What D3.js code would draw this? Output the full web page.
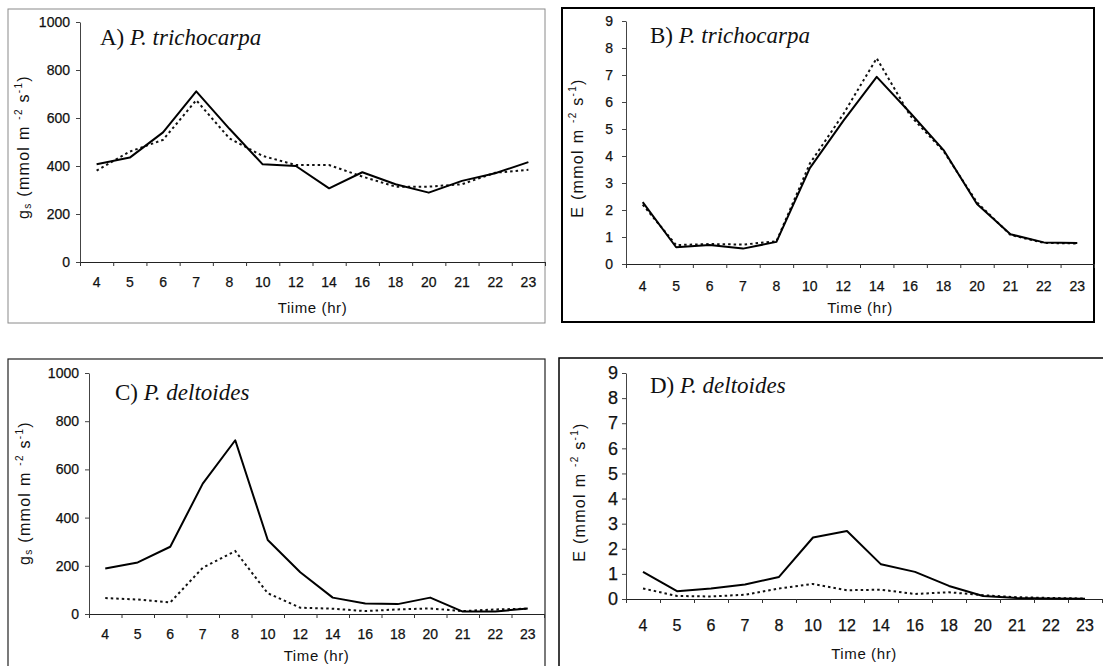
<!DOCTYPE html>
<html>
<head>
<meta charset="utf-8">
<script src="https://cdn.jsdelivr.net/npm/d3@7"></script>
<style>
  html, body { margin: 0; padding: 0; background: #fff; }
  svg { display: block; }
  .tick text { fill: #111; stroke: #111; stroke-width: 0.25px; }
</style>
</head>
<body>
<svg id="fig" width="1103" height="666"></svg>
<script>
// Sampling hours (category axis)
const hours = ["4","5","6","7","8","10","12","14","16","18","20","21","22","23"];

// Axis tick values
const gsTicks = [0, 200, 400, 600, 800, 1000];
const eTicks = [0, 1, 2, 3, 4, 5, 6, 7, 8, 9];

// Stomatal conductance, P. trichocarpa (mmol m-2 s-1)
const aSolid  = [407, 435, 540, 711, 555, 407, 400, 307, 374, 324, 289, 338, 370, 416];
const aDotted = [381, 460, 509, 674, 515, 442, 404, 404, 356, 314, 314, 324, 372, 384];

// Transpiration, P. trichocarpa (mmol m-2 s-1)
const bSolid  = [2.29, 0.62, 0.70, 0.57, 0.82, 3.55, 5.30, 6.93, 5.60, 4.22, 2.22, 1.10, 0.80, 0.78];
const bDotted = [2.20, 0.70, 0.74, 0.72, 0.84, 3.72, 5.55, 7.62, 5.50, 4.18, 2.28, 1.08, 0.78, 0.76];

// Stomatal conductance, P. deltoides
const cSolid  = [189, 214, 279, 541, 721, 307, 173, 68, 44, 41, 68, 10, 10, 23];
const cDotted = [66, 60, 48, 192, 261, 86, 26, 22, 12, 19, 23, 12, 19, 22];

// Transpiration, P. deltoides
const dSolid  = [1.08, 0.31, 0.42, 0.58, 0.88, 2.45, 2.71, 1.38, 1.08, 0.52, 0.12, 0.04, 0.02, 0.01];
const dDotted = [0.42, 0.12, 0.10, 0.17, 0.42, 0.60, 0.35, 0.37, 0.20, 0.27, 0.15, 0.07, 0.04, 0.02];

const svg = d3.select("#fig");
const SANS = "'Liberation Sans', Arial, Helvetica, sans-serif";
const SERIF = "'Liberation Serif', 'Times New Roman', serif";

const panels = [
  { letter: "A)", species: "P. trichocarpa", qty: "gs", xTitle: "Tiime (hr)",
    solid: aSolid, dotted: aDotted, ticks: gsTicks, max: 1000,
    box: [8, 9, 545, 323], boxStroke: "#8a8a8a", boxWidth: 1,
    x0: 80, x1: 545, y0: 262, y1: 22,
    tickFont: 14, yPad: 6, xLabY: 15, xTitleY: 313, yTitleX: 29, yTitleY: 147,
    titleX: 100, titleY: 45 },
  { letter: "B)", species: "P. trichocarpa", qty: "E", xTitle: "Time (hr)",
    solid: bSolid, dotted: bDotted, ticks: eTicks, max: 9,
    box: [562, 8, 1094, 322], boxStroke: "#000", boxWidth: 2,
    x0: 626, x1: 1094, y0: 264, y1: 21,
    tickFont: 14, yPad: 9, xLabY: 17, xTitleY: 313, yTitleX: 583, yTitleY: 148,
    titleX: 650, titleY: 43 },
  { letter: "C)", species: "P. deltoides", qty: "gs", xTitle: "Time (hr)",
    solid: cSolid, dotted: cDotted, ticks: gsTicks, max: 1000,
    box: [8, 359, 545, 700], boxStroke: "#222", boxWidth: 1.2,
    x0: 89, x1: 544, y0: 614, y1: 373,
    tickFont: 14, yPad: 6, xLabY: 15, xTitleY: 661, yTitleX: 30, yTitleY: 493,
    titleX: 115, titleY: 400 },
  { letter: "D)", species: "P. deltoides", qty: "E", xTitle: "Time (hr)",
    solid: dSolid, dotted: dDotted, ticks: eTicks, max: 9,
    box: [559, 358, 1140, 700], boxStroke: "#000", boxWidth: 1.5,
    x0: 626, x1: 1102, y0: 599, y1: 373,
    tickFont: 16, yFont: 18, yPad: 4, xLabY: 21, xTitleY: 659, yTitleX: 585, yTitleY: 492,
    titleX: 650, titleY: 393 }
];

function yTitle(g, p) {
  const t = g.append("text")
    .attr("transform", `translate(${p.yTitleX},${p.yTitleY}) rotate(-90)`)
    .attr("text-anchor", "middle")
    .attr("font-family", SANS)
    .attr("font-size", 16)
    .attr("letter-spacing", 1.3)
    .attr("fill", "#111");
  if (p.qty === "gs") {
    t.append("tspan").text("g");
    t.append("tspan").attr("font-size", 10).attr("dy", 2).text("s");
    t.append("tspan").attr("dy", -2).text(" (mmol m ");
  } else {
    t.append("tspan").text("E (mmol m ");
  }
  t.append("tspan").attr("font-size", 10).attr("dy", -7).text("-2");
  t.append("tspan").attr("dy", 7).text(" s");
  t.append("tspan").attr("font-size", 10).attr("dy", -7).text("-1");
  t.append("tspan").attr("dy", 7).text(")");
}

panels.forEach(p => {
  const g = svg.append("g");

  // panel frame
  g.append("rect")
    .attr("x", p.box[0]).attr("y", p.box[1])
    .attr("width", p.box[2] - p.box[0]).attr("height", p.box[3] - p.box[1])
    .attr("fill", "none").attr("stroke", p.boxStroke).attr("stroke-width", p.boxWidth);

  const x = d3.scaleBand().domain(hours).range([p.x0, p.x1]).padding(0);
  const xEdge = d3.scaleLinear().domain([0, hours.length]).range([p.x0, p.x1]);
  const y = d3.scaleLinear().domain([0, p.max]).range([p.y0, p.y1]);

  // y axis
  const ya = g.append("g").attr("transform", `translate(${p.x0},0)`)
    .call(d3.axisLeft(y).tickValues(p.ticks).tickFormat(d3.format("d"))
      .tickSize(4).tickPadding(p.yPad).tickSizeOuter(0));
  ya.select(".domain").attr("stroke", "#444");
  ya.selectAll(".tick line").attr("stroke", "#444");
  ya.selectAll("text").attr("font-family", SANS).attr("font-size", p.yFont || p.tickFont);

  // x axis: tick marks between categories, labels centred on them
  const xm = g.append("g").attr("transform", `translate(0,${p.y0})`)
    .call(d3.axisBottom(xEdge).tickValues(d3.range(hours.length + 1)).tickSize(4).tickFormat("").tickSizeOuter(0));
  xm.select(".domain").attr("stroke", "#222").attr("stroke-width", 1.2);
  xm.selectAll(".tick line").attr("stroke", "#333");

  const xl = g.append("g").attr("transform", `translate(0,${p.y0})`)
    .call(d3.axisBottom(x).tickSize(0).tickPadding(p.xLabY));
  xl.select(".domain").remove();
  xl.selectAll("text").attr("font-family", SANS).attr("font-size", p.tickFont);

  // axis titles
  g.append("text")
    .attr("x", (p.x0 + p.x1) / 2).attr("y", p.xTitleY)
    .attr("text-anchor", "middle")
    .attr("font-family", SANS).attr("font-size", 15).attr("letter-spacing", 0.6)
    .attr("fill", "#111")
    .text(p.xTitle);
  yTitle(g, p);

  // panel title
  const tt = g.append("text")
    .attr("x", p.titleX).attr("y", p.titleY)
    .attr("font-family", SERIF).attr("font-size", 23).attr("fill", "#111");
  tt.append("tspan").text(p.letter + " ");
  tt.append("tspan").attr("font-style", "italic").text(p.species);

  // series lines
  const line = d3.line()
    .x((d, i) => x(hours[i]) + x.bandwidth() / 2)
    .y(d => y(d));

  g.append("path").datum(p.dotted)
    .attr("d", line).attr("fill", "none")
    .attr("stroke", "#111").attr("stroke-width", 2)
    .attr("stroke-dasharray", "2.5,3");

  g.append("path").datum(p.solid)
    .attr("d", line).attr("fill", "none")
    .attr("stroke", "#000").attr("stroke-width", 2)
    .attr("stroke-linejoin", "round");
});
</script>
</body>
</html>
